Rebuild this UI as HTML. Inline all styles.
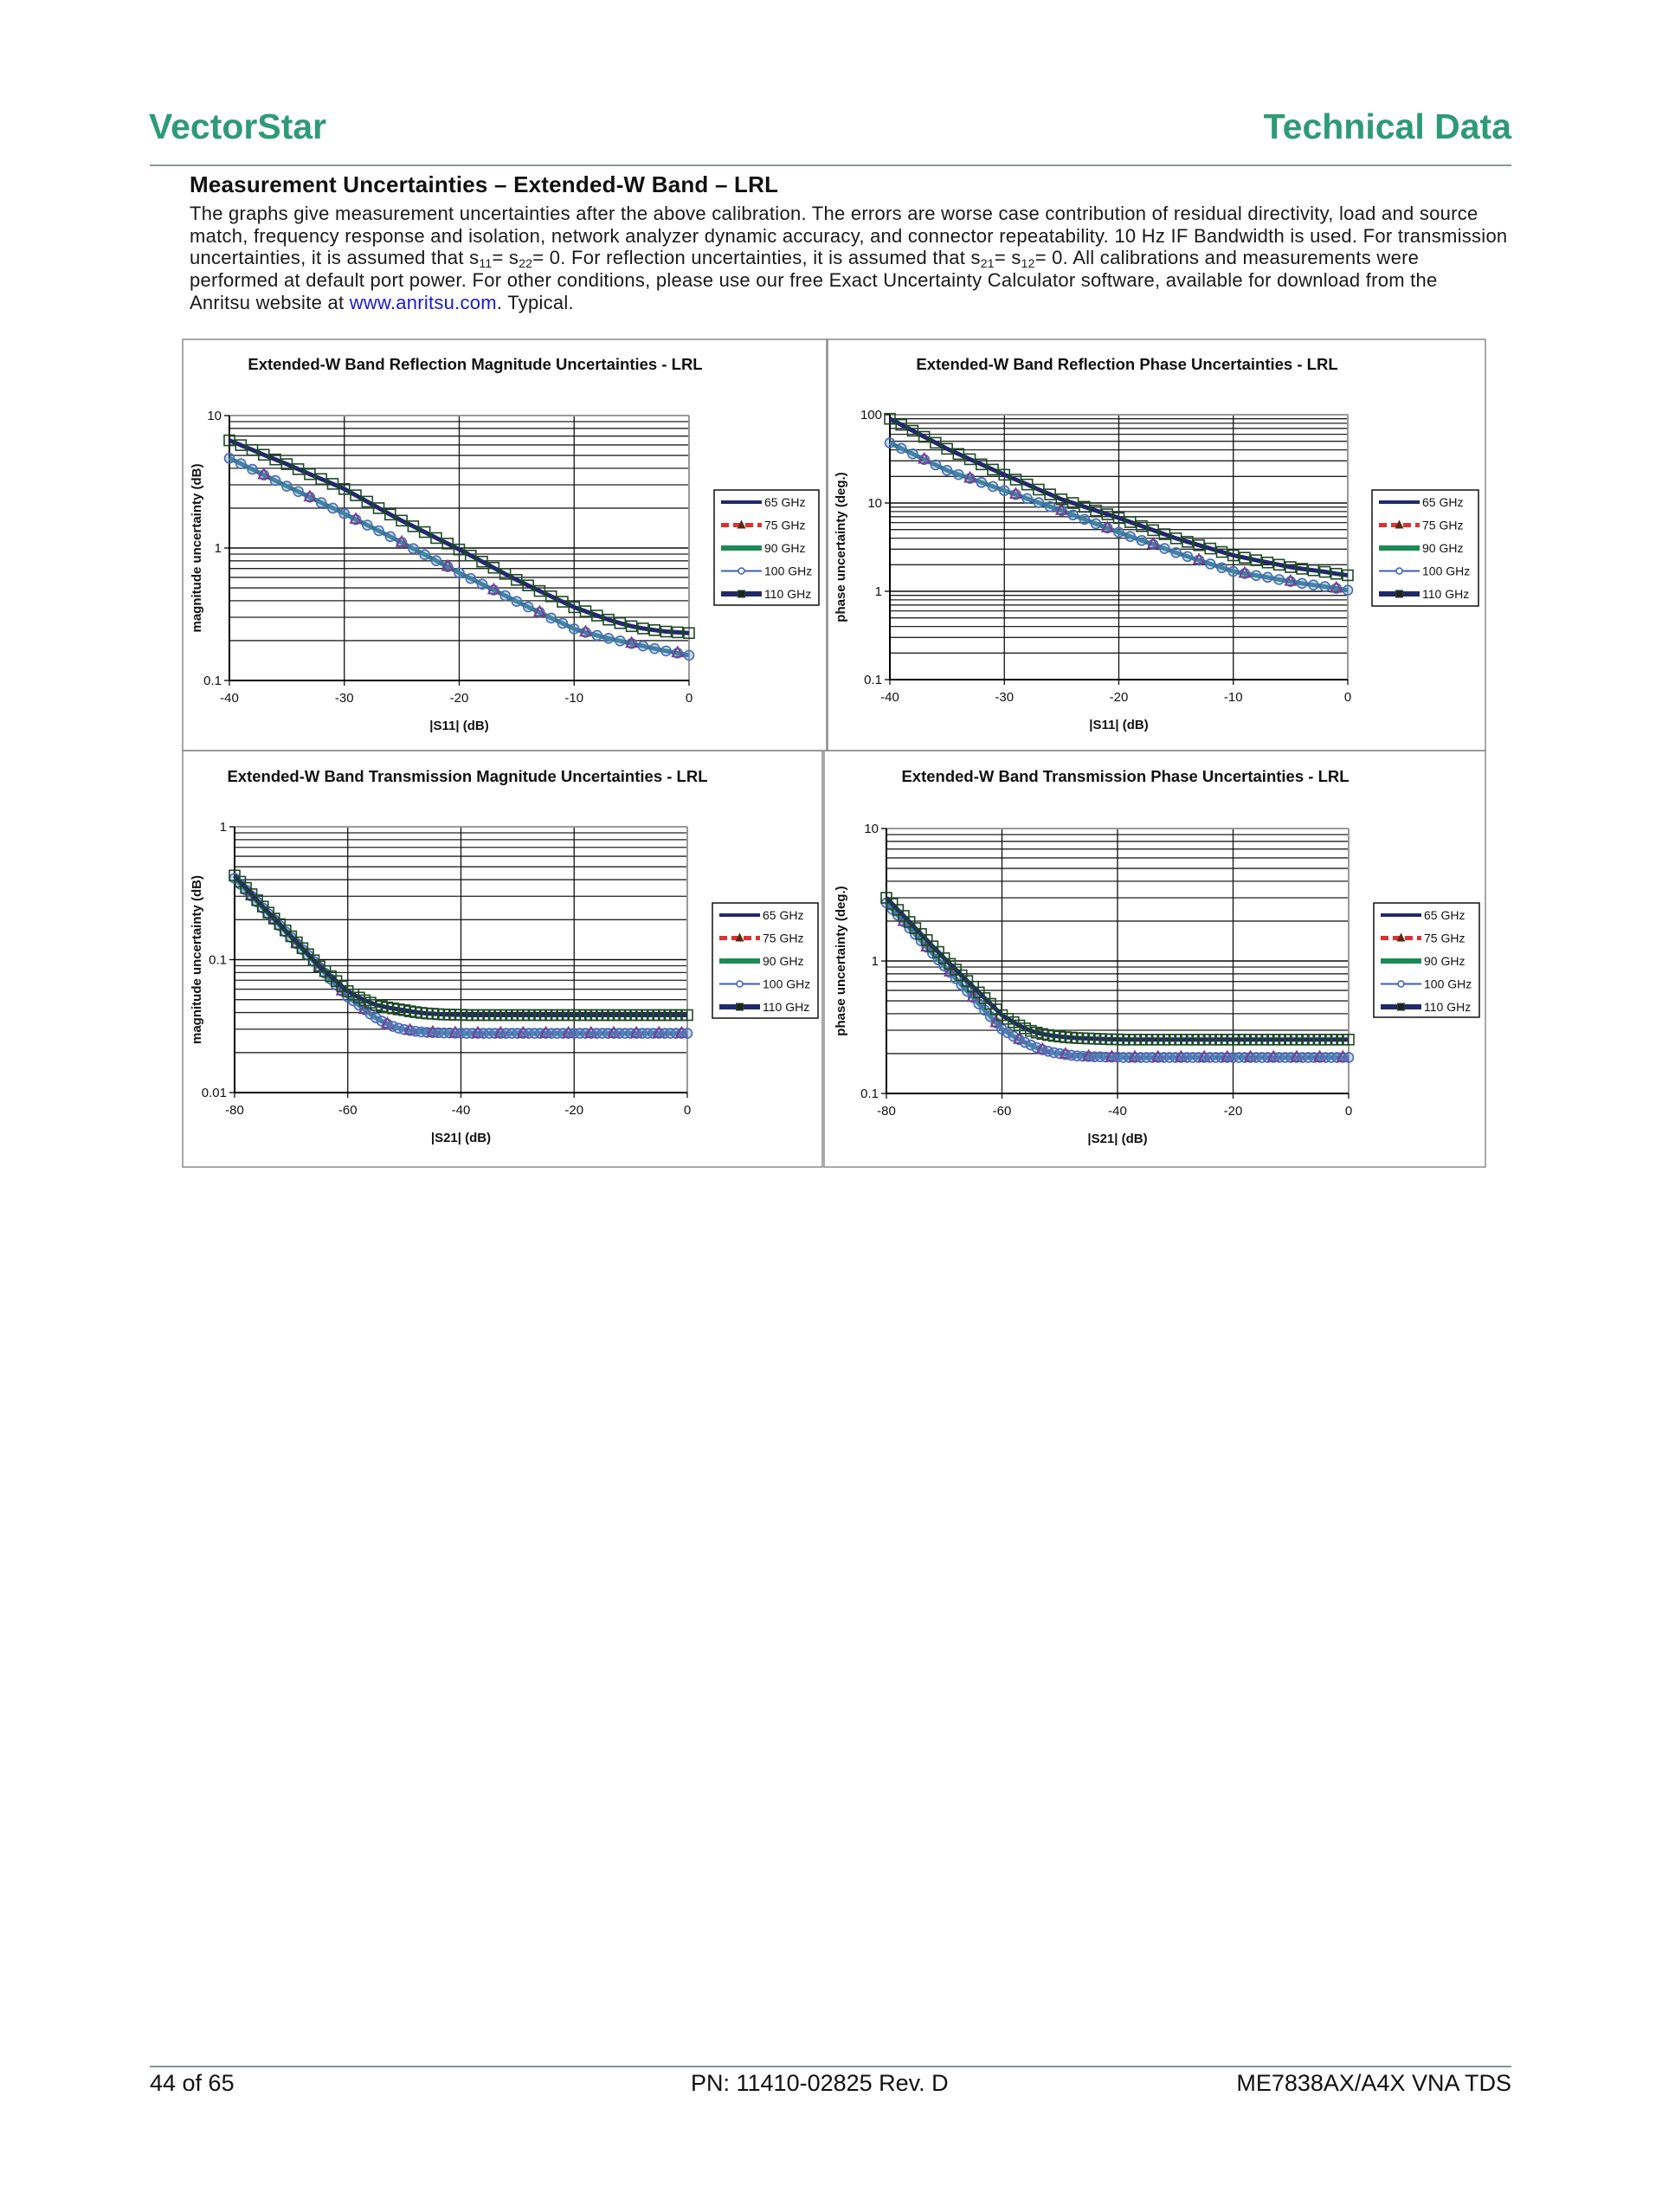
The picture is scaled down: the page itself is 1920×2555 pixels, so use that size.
<!DOCTYPE html>
<html><head><meta charset="utf-8"><title>Measurement Uncertainties - Extended-W Band - LRL</title>
<style>
html,body{margin:0;padding:0;background:#fff;}
body{width:1920px;height:2555px;position:relative;overflow:hidden;font-family:"Liberation Sans",sans-serif;}
.abs{position:absolute;white-space:nowrap;}
#hdr-left,#hdr-right{top:123px;font-size:41px;font-weight:bold;color:#2e9a76;}
#hdr-left{left:172px;}
#hdr-right{right:174px;}
#hdr-rule{left:173px;top:190px;width:1573px;height:2px;background:#8a9a98;}
#heading{left:219px;top:198px;font-size:26px;font-weight:bold;color:#111;letter-spacing:0.2px;}
#body-text{left:219px;top:234px;font-size:22px;line-height:25.7px;color:#1a1a1a;letter-spacing:0.26px;}
#body-text a{color:#1a1ad0;text-decoration:none;}
sub{font-size:14px;vertical-align:-4px;line-height:0;}
#ftr-rule{left:173px;top:2386px;width:1573px;height:2px;background:#7d9a96;}
.ftr{top:2391px;font-size:27px;color:#111;}
#charts{position:absolute;left:0;top:0;}
</style></head>
<body>
<div class="abs" id="hdr-left">VectorStar</div>
<div class="abs" id="hdr-right">Technical Data</div>
<div class="abs" id="hdr-rule"></div>
<div class="abs" id="heading">Measurement Uncertainties – Extended-W Band – LRL</div>
<div class="abs" id="body-text">The graphs give measurement uncertainties after the above calibration. The errors are worse case contribution of residual directivity, load and source<br>match, frequency response and isolation, network analyzer dynamic accuracy, and connector repeatability. 10 Hz IF Bandwidth is used. For transmission<br>uncertainties, it is assumed that s<sub>11</sub>= s<sub>22</sub>= 0. For reflection uncertainties, it is assumed that s<sub>21</sub>= s<sub>12</sub>= 0. All calibrations and measurements were<br>performed at default port power. For other conditions, please use our free Exact Uncertainty Calculator software, available for download from the<br>Anritsu website at <a>www.anritsu.com</a>. Typical.</div>
<div class="abs" id="ftr-rule"></div>
<div class="abs ftr" style="left:173px">44 of 65</div>
<div class="abs ftr" style="left:798px">PN: 11410-02825 Rev. D</div>
<div class="abs ftr" style="right:174px">ME7838AX/A4X VNA TDS</div>
<svg id="charts" width="1920" height="2555" xmlns="http://www.w3.org/2000/svg"></svg>
<script>
// ---- data ----
const xsRefl = [-40,-39,-38,-37,-36,-35,-34,-33,-32,-31,-30,-29,-28,-27,-26,-25,-24,-23,-22,-21,-20,-19,-18,-17,-16,-15,-14,-13,-12,-11,-10,-9,-8,-7,-6,-5,-4,-3,-2,-1,0];
const xsTrans = [-80,-79,-78,-77,-76,-75,-74,-73,-72,-71,-70,-69,-68,-67,-66,-65,-64,-63,-62,-61,-60,-59,-58,-57,-56,-55,-54,-53,-52,-51,-50,-49,-48,-47,-46,-45,-44,-43,-42,-41,-40,-39,-38,-37,-36,-35,-34,-33,-32,-31,-30,-29,-28,-27,-26,-25,-24,-23,-22,-21,-20,-19,-18,-17,-16,-15,-14,-13,-12,-11,-10,-9,-8,-7,-6,-5,-4,-3,-2,-1,0];
const legendLabels = ["65 GHz","75 GHz","90 GHz","100 GHz","110 GHz"];

const reflMagHigh = [6.50,5.98,5.50,5.06,4.66,4.30,3.94,3.61,3.32,3.05,2.79,2.50,2.24,2.00,1.79,1.61,1.46,1.32,1.19,1.08,0.975,0.877,0.789,0.710,0.638,0.575,0.522,0.474,0.432,0.393,0.357,0.333,0.309,0.288,0.271,0.257,0.247,0.240,0.234,0.231,0.228];
const reflMagLow = [4.76,4.33,3.93,3.56,3.23,2.93,2.67,2.42,2.20,2.00,1.82,1.64,1.49,1.35,1.22,1.10,0.99,0.891,0.802,0.723,0.650,0.589,0.533,0.482,0.437,0.395,0.359,0.327,0.296,0.270,0.245,0.231,0.219,0.208,0.199,0.190,0.182,0.174,0.167,0.161,0.155];

const reflPhHigh = [89.9,76.9,65.8,56.2,48.1,41.1,35.9,31.3,27.4,23.9,20.9,18.4,16.2,14.2,12.5,11.0,10.0,9.06,8.22,7.45,6.76,6.08,5.47,4.92,4.43,3.98,3.64,3.33,3.05,2.79,2.55,2.40,2.25,2.12,2.00,1.88,1.80,1.73,1.66,1.58,1.52];
const reflPhLow = [47.9,41.5,36.0,31.1,27.0,23.4,21.0,19.0,17.1,15.4,13.8,12.5,11.2,10.1,9.10,8.20,7.33,6.53,5.83,5.20,4.65,4.18,3.76,3.39,3.05,2.74,2.48,2.25,2.04,1.85,1.68,1.59,1.51,1.44,1.36,1.29,1.23,1.18,1.13,1.08,1.03];

const transMagHigh = [0.430,0.386,0.347,0.311,0.280,0.251,0.226,0.204,0.185,0.166,0.150,0.135,0.122,0.110,0.099,0.089,0.082,0.075,0.069,0.063,0.058,0.0547,0.0519,0.0495,0.0475,0.0457,0.0447,0.0437,0.0430,0.0423,0.0417,0.0409,0.0403,0.0398,0.0394,0.0392,0.0389,0.0387,0.0386,0.0385,0.0385,0.0383,0.0383,0.0383,0.0383,0.0383,0.0383,0.0383,0.0383,0.0383,0.0383,0.0383,0.0383,0.0383,0.0383,0.0383,0.0383,0.0383,0.0383,0.0383,0.0383,0.0383,0.0383,0.0383,0.0383,0.0383,0.0383,0.0383,0.0383,0.0383,0.0383,0.0383,0.0383,0.0383,0.0383,0.0383,0.0383,0.0383,0.0383,0.0383,0.0383];
const transMagLow = [0.410,0.370,0.334,0.301,0.272,0.245,0.221,0.200,0.180,0.162,0.147,0.132,0.119,0.108,0.0970,0.0875,0.0790,0.0713,0.0643,0.0580,0.0524,0.0490,0.0455,0.0420,0.0390,0.0365,0.0345,0.0328,0.0315,0.0305,0.0298,0.0293,0.0289,0.0286,0.0284,0.0283,0.0282,0.0281,0.0281,0.0280,0.0280,0.0279,0.0279,0.0279,0.0279,0.0279,0.0279,0.0279,0.0279,0.0279,0.0279,0.0279,0.0279,0.0279,0.0279,0.0279,0.0279,0.0279,0.0279,0.0279,0.0279,0.0279,0.0279,0.0279,0.0279,0.0279,0.0279,0.0279,0.0279,0.0279,0.0279,0.0279,0.0279,0.0279,0.0279,0.0279,0.0279,0.0279,0.0279,0.0279,0.0279];

const transPhHigh = [3.00,2.70,2.43,2.19,1.97,1.77,1.60,1.44,1.29,1.17,1.05,0.951,0.861,0.780,0.706,0.640,0.579,0.525,0.475,0.431,0.390,0.366,0.345,0.326,0.310,0.297,0.288,0.281,0.276,0.272,0.269,0.266,0.264,0.262,0.261,0.260,0.259,0.258,0.257,0.256,0.256,0.255,0.255,0.255,0.255,0.255,0.255,0.255,0.255,0.255,0.255,0.255,0.255,0.255,0.255,0.255,0.255,0.255,0.255,0.255,0.255,0.255,0.255,0.255,0.255,0.255,0.255,0.255,0.255,0.255,0.255,0.255,0.255,0.255,0.255,0.255,0.255,0.255,0.255,0.255,0.255];
const transPhLow = [2.75,2.46,2.21,1.98,1.77,1.59,1.42,1.27,1.14,1.02,0.916,0.822,0.736,0.659,0.591,0.530,0.474,0.425,0.381,0.341,0.306,0.287,0.270,0.255,0.243,0.232,0.222,0.214,0.208,0.203,0.200,0.197,0.194,0.192,0.191,0.190,0.189,0.189,0.188,0.188,0.188,0.187,0.187,0.187,0.187,0.187,0.187,0.187,0.187,0.187,0.187,0.187,0.187,0.187,0.187,0.187,0.187,0.187,0.187,0.187,0.187,0.187,0.187,0.187,0.187,0.187,0.187,0.187,0.187,0.187,0.187,0.187,0.187,0.187,0.187,0.187,0.187,0.187,0.187,0.187,0.187];

const reflXTicks = [-40,-30,-20,-10,0];
const transXTicks = [-80,-60,-40,-20,0];
const reflMagYTicks = ["0.1","1","10"];
const reflPhYTicks = ["0.1","1","10","100"];
const transMagYTicks = ["0.01","0.1","1"];
const transPhYTicks = ["0.1","1","10"];

// ---- drawing ----
const svg = document.getElementById('charts');
const NS = 'http://www.w3.org/2000/svg';
function mk(tag, attrs, parent){
  const e = document.createElementNS(NS, tag);
  for (const k in attrs) e.setAttribute(k, attrs[k]);
  (parent||svg).appendChild(e);
  return e;
}
function txt(s, attrs, parent){ const t = mk('text', attrs, parent); t.textContent = s; return t; }

function chart(c){
  const g = mk('g', {});
  
  
  const box = mk('rect', {x:c.box[0], y:c.box[1], width:c.box[2]-c.box[0], height:c.box[3]-c.box[1], fill:'none', stroke:'#8c8c8c', 'stroke-width':1.5}, g);
  
  
  const [L,T,R,B] = c.plot;
  const xmin = c.xTicks[0], xmax = c.xTicks[c.xTicks.length-1];
  const lmin = Math.log10(parseFloat(c.yTicks[0])), lmax = Math.log10(parseFloat(c.yTicks[c.yTicks.length-1]));
  const X = v => L + (v - xmin)/(xmax - xmin)*(R - L);
  const Y = v => B - (Math.log10(v) - lmin)/(lmax - lmin)*(B - T);

  const t = txt(c.title, {x:c.titleX, y:c.titleY, 'text-anchor':'middle', 'font-size':18.5, 'font-weight':'bold', fill:'#111'}, g);
  
  

  const grid = mk('g', {stroke:'#111', 'stroke-width':1.3}, g);
  
  
  for (let d = lmin; d < lmax; d++){
    for (let m = 1; m <= 10; m++){
      const v = m*Math.pow(10,d);
      const yy = Y(v);
      mk('line', {x1:L, x2:R, y1:yy, y2:yy, stroke: m===1||m===10 ? '#000' : '#222'}, grid);
    }
  }
  c.xTicks.forEach(v => { mk('line', {x1:X(v), x2:X(v), y1:T, y2:B+6}, grid); });
  mk('line', {x1:R, x2:R, y1:T, y2:B, stroke:'#999', 'stroke-width':2}, g);
  mk('line', {x1:L, x2:R, y1:T, y2:T, stroke:'#999', 'stroke-width':2}, g);
  const axY = mk('line', {x1:L, x2:L, y1:T, y2:B, stroke:'#000', 'stroke-width':2}, g);
  
  
  const axX = mk('line', {x1:L, x2:R, y1:B, y2:B, stroke:'#000', 'stroke-width':2}, g);
  
  

  c.yTicks.forEach(s => {
    const yy = Y(parseFloat(s));
    mk('line', {x1:L-6, x2:L, y1:yy, y2:yy, stroke:'#000', 'stroke-width':1.3}, g);
    const tl = txt(s, {x:L-9, y:yy+5, 'text-anchor':'end', 'font-size':15, fill:'#111'}, g);
    
    
  });
  c.xTicks.forEach(v => {
    const tl = txt(String(v), {x:X(v), y:B+25, 'text-anchor':'middle', 'font-size':15, fill:'#111'}, g);
    
    
  });
  const xt = txt(c.xTitle, {x:(L+R)/2, y:B+57, 'text-anchor':'middle', 'font-size':15, 'font-weight':'bold', fill:'#111'}, g);
  
  
  const yc = (T+B)/2;
  const yt = txt(c.yTitle, {x:c.yTitleX, y:yc, 'text-anchor':'middle', 'font-size':15, 'font-weight':'bold', fill:'#111', transform:`rotate(-90 ${c.yTitleX} ${yc})`}, g);
  
  

  const xs = c.xs;
  const pts = arr => arr.map((v,i) => X(xs[i]).toFixed(1)+','+Y(v).toFixed(1)).join(' ');
  const low = mk('g', {}, g);
  
  
  mk('polyline', {points:pts(c.low), fill:'none', stroke:'#1b8a55', 'stroke-width':5}, low);
  mk('polyline', {points:pts(c.low), fill:'none', stroke:'#3a6fb5', 'stroke-width':2}, low);
  c.low.forEach((v,i) => {
    mk('circle', {cx:X(xs[i]), cy:Y(v), r:5.5, fill:'rgba(110,150,210,0.35)', stroke:'#4a6ab8', 'stroke-width':1.6}, low);
    if (i % 4 === 3){
      const x = X(xs[i]), y = Y(v);
      mk('polygon', {points:`${x},${y-7} ${x-6},${y+4} ${x+6},${y+4}`, fill:'none', stroke:'#7a3b8f', 'stroke-width':1.8}, low);
    }
  });
  const high = mk('g', {}, g);
  
  
  mk('polyline', {points:pts(c.high), fill:'none', stroke:'#22296b', 'stroke-width':5}, high);
  c.high.forEach((v,i) => {
    mk('rect', {x:X(xs[i])-6, y:Y(v)-6, width:12, height:12, fill:'none', stroke:'#1c4a25', 'stroke-width':1.6}, high);
  });

  const [lx0,ly0,lx1,ly1] = c.legend;
  const lg = mk('g', {}, g);
  
  
  mk('rect', {x:lx0, y:ly0, width:lx1-lx0, height:ly1-ly0, fill:'#fff', stroke:'#111', 'stroke-width':1.5}, lg);
  legendLabels.forEach((lab,i) => {
    const yy = ly0 + 14 + i*26.5;
    const a = lx0+8, b = lx0+55;
    const e = mk('g', {}, lg);
    
    
    if (i===0) mk('line', {x1:a, x2:b, y1:yy, y2:yy, stroke:'#22296b', 'stroke-width':4}, e);
    if (i===1){ mk('line', {x1:a, x2:b, y1:yy, y2:yy, stroke:'#e03030', 'stroke-width':5, 'stroke-dasharray':'9,5'}, e);
      const m=(a+b)/2; mk('polygon', {points:`${m},${yy-6} ${m-5},${yy+4} ${m+5},${yy+4}`, fill:'#5a2a10'}, e); }
    if (i===2) mk('line', {x1:a, x2:b, y1:yy, y2:yy, stroke:'#1b8a55', 'stroke-width':6}, e);
    if (i===3){ mk('line', {x1:a, x2:b, y1:yy, y2:yy, stroke:'#3a5fb5', 'stroke-width':2}, e);
      mk('circle', {cx:(a+b)/2, cy:yy, r:3.5, fill:'#fff', stroke:'#3a5fb5', 'stroke-width':1.5}, e); }
    if (i===4){ mk('line', {x1:a, x2:b, y1:yy, y2:yy, stroke:'#22296b', 'stroke-width':6}, e);
      mk('rect', {x:(a+b)/2-4, y:yy-4, width:8, height:8, fill:'#222', stroke:'#1c4a25'}, e); }
    txt(lab, {x:lx0+58, y:yy+5, 'font-size':14, fill:'#111'}, e);
  });
}

chart({name:'reflection-magnitude-chart', box:[211,392,956,867], plot:[265,480,796,786], xs:xsRefl, xTicks:reflXTicks, yTicks:reflMagYTicks,
  high:reflMagHigh, low:reflMagLow, title:'Extended-W Band Reflection Magnitude Uncertainties - LRL', titleX:549, titleY:427,
  xTitle:'|S11| (dB)', yTitle:'magnitude uncertainty (dB)', yTitleX:232, legend:[825,566,946,699]});
chart({name:'reflection-phase-chart', box:[955,392,1716,867], plot:[1028,479,1557,785], xs:xsRefl, xTicks:reflXTicks, yTicks:reflPhYTicks,
  high:reflPhHigh, low:reflPhLow, title:'Extended-W Band Reflection Phase Uncertainties - LRL', titleX:1302, titleY:427,
  xTitle:'|S11| (dB)', yTitle:'phase uncertainty (deg.)', yTitleX:976, legend:[1585,566,1708,700]});
chart({name:'transmission-magnitude-chart', box:[211,867,950,1348], plot:[271,955,794,1262], xs:xsTrans, xTicks:transXTicks, yTicks:transMagYTicks,
  high:transMagHigh, low:transMagLow, title:'Extended-W Band Transmission Magnitude Uncertainties - LRL', titleX:540, titleY:903,
  xTitle:'|S21| (dB)', yTitle:'magnitude uncertainty (dB)', yTitleX:232, legend:[823,1043,945,1176]});
chart({name:'transmission-phase-chart', box:[952,867,1716,1348], plot:[1024,957,1558,1263], xs:xsTrans, xTicks:transXTicks, yTicks:transPhYTicks,
  high:transPhHigh, low:transPhLow, title:'Extended-W Band Transmission Phase Uncertainties - LRL', titleX:1300, titleY:903,
  xTitle:'|S21| (dB)', yTitle:'phase uncertainty (deg.)', yTitleX:976, legend:[1587,1043,1709,1175]});
</script>
</body></html>
